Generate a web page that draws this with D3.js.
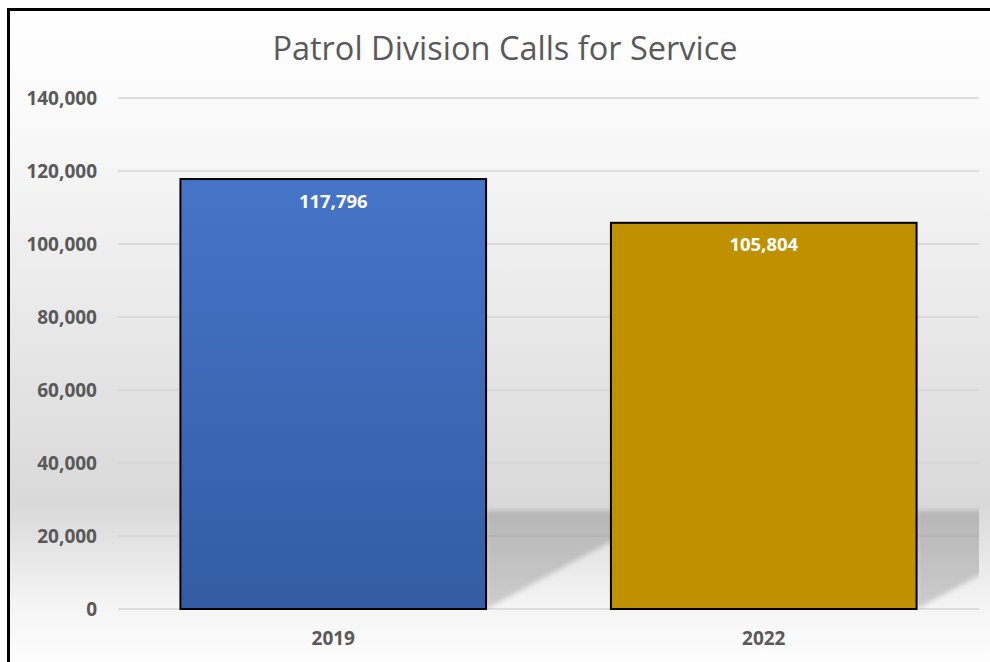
<!DOCTYPE html>
<html>
<head>
<meta charset="utf-8">
<script src="https://cdn.jsdelivr.net/npm/d3@7"></script>
<style>
  body { margin: 0; background: #fff; }
  svg { display: block; }
</style>
</head>
<body>
<script>
const width = 990;
const height = 662;

// data
const years = ["2019", "2022"];
const calls = [117796, 105804];
const barColors = ["#4472C4", "#BF9000"];
const yTicks = [0, 20000, 40000, 60000, 80000, 100000, 120000, 140000];

const plot = { left: 118, right: 979, top: 98, bottom: 609 };

var svg = d3.select("body")
  .append("svg")
  .attr("width", width)
  .attr("height", height);

var defs = svg.append("defs");

var bg = defs.append("linearGradient")
  .attr("id", "bg")
  .attr("gradientUnits", "userSpaceOnUse")
  .attr("x1", 0).attr("y1", 10).attr("x2", 0).attr("y2", height);
bg.append("stop").attr("offset", "0%").attr("stop-color", "#ffffff");
bg.append("stop").attr("offset", "15%").attr("stop-color", "#fafafa");
bg.append("stop").attr("offset", "76%").attr("stop-color", "#d9d9d9");
bg.append("stop").attr("offset", "91%").attr("stop-color", "#f4f4f4");
bg.append("stop").attr("offset", "100%").attr("stop-color", "#fdfdfd");

var blue = defs.append("linearGradient")
  .attr("id", "blueGrad")
  .attr("x1", 0).attr("y1", 0).attr("x2", 0).attr("y2", 1);
blue.append("stop").attr("offset", "0%").attr("stop-color", "#4674C8");
blue.append("stop").attr("offset", "100%").attr("stop-color", "#335CA4");

var blur = defs.append("filter").attr("id", "blur")
  .attr("x", "-20%").attr("y", "-20%").attr("width", "140%").attr("height", "140%");
blur.append("feGaussianBlur").attr("stdDeviation", 2.5);

defs.append("clipPath").attr("id", "plotClip")
  .append("rect")
  .attr("x", plot.left).attr("y", plot.top)
  .attr("width", plot.right - plot.left).attr("height", plot.bottom - plot.top);

svg.append("rect")
  .attr("x", 8.5).attr("y", 9.5)
  .attr("width", width + 10).attr("height", height + 10)
  .attr("fill", "url(#bg)")
  .attr("stroke", "#000")
  .attr("stroke-width", 3);

var x = d3.scaleBand()
  .domain(years)
  .range([plot.left, plot.right])
  .paddingInner(0.29)
  .paddingOuter(0.145);

var y = d3.scaleLinear()
  .domain([0, 140000])
  .range([plot.bottom, plot.top]);

// gridlines
svg.append("g")
  .selectAll("line")
  .data(yTicks)
  .join("line")
  .attr("x1", plot.left).attr("x2", plot.right)
  .attr("y1", d => y(d)).attr("y2", d => y(d))
  .attr("stroke", "#d4d4d4")
  .attr("stroke-width", 1.5);

// y axis labels
svg.append("g")
  .selectAll("text")
  .data(yTicks)
  .join("text")
  .attr("x", 97)
  .attr("y", d => y(d))
  .attr("dy", "0.35em")
  .attr("text-anchor", "end")
  .attr("font-family", "'Open Sans', sans-serif")
  .attr("font-weight", "bold")
  .attr("font-size", 19)
  .attr("fill", "#595959")
  .text(d => d3.format(",")(d));

// floor shadows behind bars
svg.append("g")
  .attr("clip-path", "url(#plotClip)")
  .selectAll("path")
  .data(years)
  .join("path")
  .attr("d", function(d) {
    var x0 = x(d) + x.bandwidth();
    var top = y(27000);
    var depth = plot.bottom - top;
    return "M" + x0 + "," + plot.bottom + "L" + x0 + "," + top +
      "L" + (x0 + depth * 1.85) + "," + top + "Z";
  })
  .attr("fill", "#000")
  .attr("fill-opacity", 0.17)
  .attr("filter", "url(#blur)");

// bars
svg.append("g")
  .selectAll("rect")
  .data(years)
  .join("rect")
  .attr("x", d => x(d))
  .attr("y", (d, i) => y(calls[i]))
  .attr("width", x.bandwidth())
  .attr("height", (d, i) => y(0) - y(calls[i]))
  .attr("fill", (d, i) => i === 0 ? "url(#blueGrad)" : barColors[i])
  .attr("stroke", "#000")
  .attr("stroke-width", 2);

// bar value labels
svg.append("g")
  .selectAll("text")
  .data(years)
  .join("text")
  .attr("x", d => x(d) + x.bandwidth() / 2)
  .attr("y", (d, i) => y(calls[i]) + 22)
  .attr("dy", "0.35em")
  .attr("text-anchor", "middle")
  .attr("font-family", "'Open Sans', sans-serif")
  .attr("font-weight", "bold")
  .attr("font-size", 18.5)
  .attr("fill", "#ffffff")
  .text((d, i) => d3.format(",")(calls[i]));

// x axis labels
svg.append("g")
  .selectAll("text")
  .data(years)
  .join("text")
  .attr("x", d => x(d) + x.bandwidth() / 2)
  .attr("y", 638)
  .attr("dy", "0.35em")
  .attr("text-anchor", "middle")
  .attr("font-family", "'Open Sans', sans-serif")
  .attr("font-weight", "bold")
  .attr("font-size", 19)
  .attr("fill", "#595959")
  .text(d => d);

// title
svg.append("text")
  .attr("x", 505)
  .attr("y", 60)
  .attr("text-anchor", "middle")
  .attr("font-family", "'Open Sans', sans-serif")
  .attr("font-size", 32.5)
  .attr("fill", "#595959")
  .text("Patrol Division Calls for Service");
</script>
</body>
</html>
